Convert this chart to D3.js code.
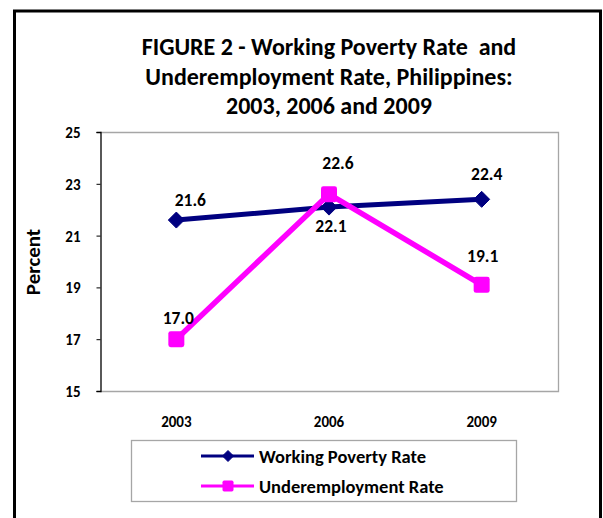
<!DOCTYPE html>
<html>
<head>
<meta charset="utf-8">
<script src="https://cdn.jsdelivr.net/npm/d3@7"></script>
<style>
  html, body { margin: 0; padding: 0; background: #fff; }
  svg { display: block; }
  text { font-family: Carlito, Calibri, Lato, "Open Sans", sans-serif; font-weight: bold; fill: #000; }
</style>
</head>
<body>
<svg id="chart" width="603" height="518"></svg>
<script>
// Survey years and the two rates (percent)
const years = ["2003", "2006", "2009"];
const workingPoverty = [21.6, 22.1, 22.4];
const underemployment = [17.0, 22.6, 19.1];
const yTicks = [15, 17, 19, 21, 23, 25];
const titleLines = [
  "FIGURE 2 - Working Poverty Rate\u00a0 and",
  "Underemployment Rate, Philippines:",
  "2003, 2006 and 2009"
];
const seriesNames = ["Working Poverty Rate", "Underemployment Rate"];

const plot = { left: 100, top: 132, right: 558, bottom: 391 };

const svg = d3.select("#chart");

// Outer frame around the whole figure (bottom edge runs past the page)
svg.append("rect")
  .attr("x", 14.5).attr("y", 11)
  .attr("width", 586).attr("height", 540)
  .attr("fill", "none").attr("stroke", "#000").attr("stroke-width", 3);

// Title
svg.append("g").selectAll("text")
  .data(titleLines)
  .join("text")
  .attr("x", (plot.left + plot.right) / 2)
  .attr("y", (d, i) => 55 + i * 29.5)
  .attr("text-anchor", "middle")
  .style("font-size", "24px")
  .text(d => d);

const x = d3.scaleBand().domain(years).range([plot.left, plot.right]);
const y = d3.scaleLinear().domain([15, 25]).range([plot.bottom, plot.top]);
const cx = d => x(d) + x.bandwidth() / 2;

// Plot-area frame: grey on top, right and bottom
svg.append("path")
  .attr("d", `M${plot.left},${plot.top + 0.5}H${plot.right + 0.5}V${plot.bottom + 0.5}H${plot.left}`)
  .attr("fill", "none").attr("stroke", "#a6a6a6").attr("stroke-width", 1.3);

// Y axis
const yAxis = svg.append("g")
  .attr("transform", `translate(${plot.left + 0.5},0)`)
  .call(d3.axisLeft(y).tickValues(yTicks).tickSize(4).tickPadding(16).tickFormat(d3.format("d")));
yAxis.select(".domain").attr("stroke", "#000").attr("stroke-width", 1.3);
yAxis.selectAll(".tick line").attr("stroke", "#000");
yAxis.selectAll(".tick text").style("font-size", "15px").attr("dy", "0.36em");

// X axis labels (no ticks)
const xAxis = svg.append("g")
  .attr("transform", `translate(0,${plot.bottom})`)
  .call(d3.axisBottom(x).tickSize(0).tickPadding(25));
xAxis.select(".domain").remove();
xAxis.selectAll(".tick text").style("font-size", "15px");

// Y axis title
svg.append("text")
  .attr("transform", `translate(40,262) rotate(-90)`)
  .attr("text-anchor", "middle")
  .style("font-size", "21px")
  .text("Percent");

const line = d3.line().x((d, i) => cx(years[i])).y(d => y(d));

const series = [
  { name: seriesNames[0], values: workingPoverty, color: "#000080", width: 5, marker: "diamond" },
  { name: seriesNames[1], values: underemployment, color: "#ff00ff", width: 5.5, marker: "square" }
];

// Label placement relative to each point: [dx, dy] in pixels
const labelNudge = [
  [[14, -20], [2, 19], [5, -26]],
  [[2, -22], [9, -31], [1, -29]]
];

function drawMarker(g, type, color, size) {
  if (type === "diamond") {
    const r = size / 2;
    g.append("path")
      .attr("d", `M0,${-r}L${r},0L0,${r}L${-r},0Z`)
      .attr("fill", color).attr("stroke", color).attr("stroke-width", 1)
      .attr("stroke-linejoin", "round");
  } else {
    g.append("rect")
      .attr("x", -size / 2).attr("y", -size / 2)
      .attr("width", size).attr("height", size)
      .attr("rx", size * 0.15)
      .attr("fill", color);
  }
}

series.forEach(s => {
  const g = svg.append("g");
  g.append("path")
    .datum(s.values)
    .attr("d", line)
    .attr("fill", "none")
    .attr("stroke", s.color)
    .attr("stroke-width", s.width)
    .attr("stroke-linejoin", "round");
  s.values.forEach((v, i) => {
    const m = g.append("g").attr("transform", `translate(${cx(years[i])},${y(v)})`);
    drawMarker(m, s.marker, s.color, 16);
  });
});

// Data labels drawn on top of both lines
series.forEach((s, si) => {
  svg.append("g").selectAll("text")
    .data(s.values)
    .join("text")
    .attr("x", (d, i) => cx(years[i]) + labelNudge[si][i][0])
    .attr("y", (d, i) => y(d) + labelNudge[si][i][1])
    .attr("dy", "0.36em")
    .attr("text-anchor", "middle")
    .style("font-size", "17.5px")
    .text(d => d3.format(".1f")(d));
});

// Legend
const legend = svg.append("g");
legend.append("rect")
  .attr("x", 131.5).attr("y", 440.5)
  .attr("width", 385).attr("height", 61)
  .attr("fill", "#fff").attr("stroke", "#a6a6a6").attr("stroke-width", 1.3);

series.forEach((s, i) => {
  const rowY = 456 + i * 30;
  const row = legend.append("g").attr("transform", `translate(0,${rowY})`);
  row.append("line")
    .attr("x1", 201).attr("x2", 254)
    .attr("stroke", s.color).attr("stroke-width", 3);
  const m = row.append("g").attr("transform", "translate(228,0)");
  drawMarker(m, s.marker, s.color, 11);
  row.append("text")
    .attr("x", 259).attr("dy", "0.36em")
    .style("font-size", "18.5px")
    .text(s.name);
});
</script>
</body>
</html>
